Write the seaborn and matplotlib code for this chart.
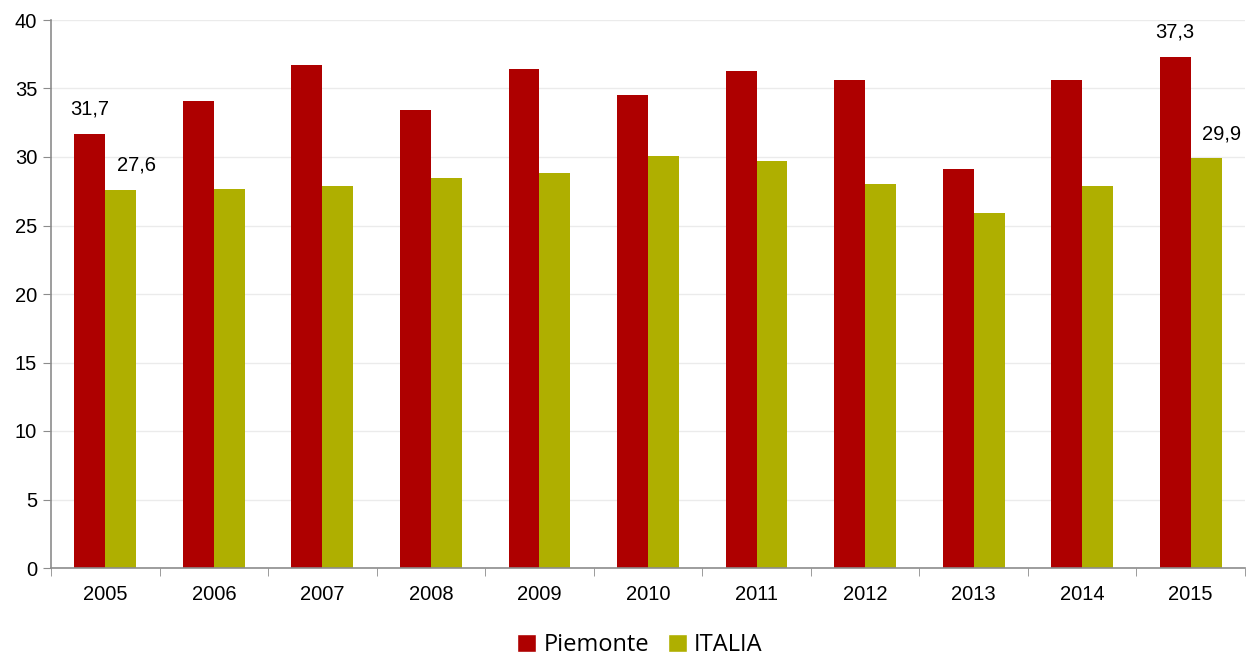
import matplotlib
matplotlib.use('Agg')
import matplotlib.pyplot as plt
from matplotlib.patches import Patch
import numpy as np
import pandas as pd
import seaborn as sns

years = ['2005', '2006', '2007', '2008', '2009', '2010', '2011', '2012', '2013', '2014', '2015']
piemonte = [31.7, 34.1, 36.7, 33.4, 36.4, 34.5, 36.3, 35.6, 29.1, 35.6, 37.3]
italia = [27.6, 27.7, 27.9, 28.5, 28.8, 30.1, 29.7, 28.0, 25.9, 27.9, 29.9]
series = ['Piemonte', 'ITALIA']
colors = ['#AE0000', '#AFAF00']

df = pd.DataFrame({'anno': years * 2, 'valore': piemonte + italia, 'serie': ['Piemonte'] * len(years) + ['ITALIA'] * len(years)})

sns.set_style('white')
plt.rcParams['font.family'] = ['Liberation Sans', 'DejaVu Sans']
plt.rcParams['text.color'] = 'black'
plt.rcParams['xtick.color'] = 'black'
plt.rcParams['ytick.color'] = 'black'

fig = plt.figure(figsize=(12.53, 6.62), dpi=100)
ax = fig.add_axes([51 / 1253, 1 - 568 / 662, 1194 / 1253, 548 / 662])
sns.barplot(data=df, x='anno', y='valore', hue='serie', hue_order=series, palette=colors, width=0.57, saturation=1, ax=ax, legend=False, edgecolor='none')

ax.set_ylim(0, 40)
ax.set_xlim(-0.5, len(years) - 0.5)
ax.set_yticks(np.arange(0, 41, 5))
ax.yaxis.grid(True, color='#EBEBEB', linewidth=1)
ax.set_axisbelow(True)
ax.set_xlabel('')
ax.set_ylabel('')
for side in ['top', 'right']:
    ax.spines[side].set_visible(False)
for side in ['left', 'bottom']:
    ax.spines[side].set_color('#8C8C8C')
    ax.spines[side].set_linewidth(1.2)
ax.tick_params(axis='y', length=6, color='#8C8C8C', labelcolor='black', labelsize=14.5, pad=4, left=True)
ax.tick_params(axis='x', which='major', length=0, labelcolor='black', labelsize=14.5, pad=12)
ax.set_xticks(np.arange(-0.5, len(years)), minor=True)
ax.tick_params(axis='x', which='minor', length=6, color='#8C8C8C', bottom=True)

# data labels only on first and last year
for cont, s in zip(ax.containers, series):
    for i in [0, len(years) - 1]:
        bar = cont[i]
        h = bar.get_height()
        dx = 0 if s == 'Piemonte' else 11
        ax.annotate(f'{h:.1f}'.replace('.', ','), (bar.get_x() + bar.get_width() / 2, h), xytext=(dx, 11), textcoords='offset points', ha='center', va='bottom', fontsize=14.5, color='black')

handles = [Patch(facecolor=c, label=s) for c, s in zip(colors, series)]
fig.legend(handles=handles, loc='center', bbox_to_anchor=(640 / 1253, 1 - 645 / 662), ncol=2, frameon=False, handlelength=0.8, handleheight=0.8, handletextpad=0.3, columnspacing=0.8, prop={'family': 'Open Sans', 'size': 17}, labelcolor='black')

fig.savefig('out.png', dpi=100)
